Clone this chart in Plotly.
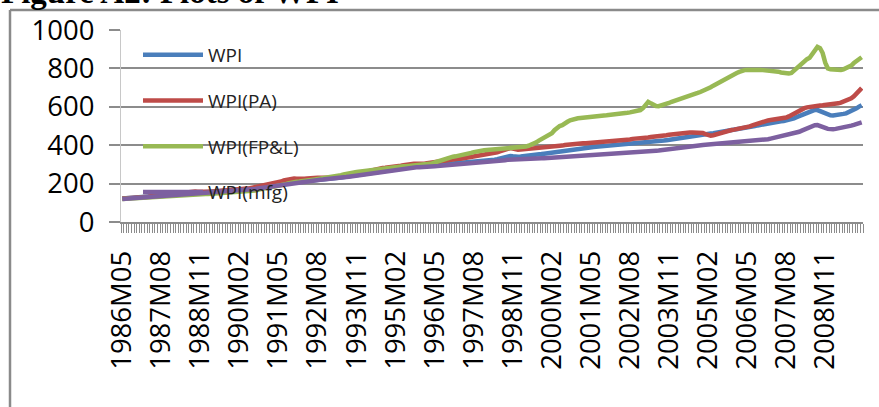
import plotly.graph_objects as go

# ---- data (monthly, starting 1986M05) ----
start_year, start_month = 1986, 5

wpi = [
    122, 123, 124, 125, 126, 126, 127, 127,
    128, 129, 130, 131, 132, 133, 135, 136, 137, 138, 139, 139,
    140, 141, 142, 143, 144, 145, 147, 148, 149, 149, 150, 150,
    151, 152, 153, 154, 155, 157, 158, 159, 160, 161, 161, 162,
    163, 164, 165, 167, 168, 170, 172, 174, 176, 178, 180, 181,
    182, 184, 186, 189, 192, 195, 198, 201, 204, 206, 208, 209,
    210, 211, 212, 214, 216, 218, 220, 221, 222, 223, 224, 224,
    225, 226, 228, 230, 232, 235, 237, 239, 241, 243, 245, 246,
    248, 250, 252, 255, 258, 261, 264, 266, 268, 270, 272, 273,
    275, 277, 279, 281, 283, 285, 287, 288, 289, 290, 291, 291,
    292, 293, 294, 296, 297, 299, 301, 303, 305, 306, 307, 307,
    308, 309, 310, 311, 312, 313, 314, 315, 316, 317, 318, 318,
    319, 320, 322, 324, 327, 330, 334, 338, 342, 344, 342, 339,
    340, 341, 342, 343, 344, 346, 348, 350, 352, 354, 356, 358,
    360, 362, 365, 368, 370, 372, 374, 376, 378, 380, 382, 384,
    386, 387, 388, 389, 390, 391, 392, 393, 394, 395, 396, 397,
    398, 399, 400, 401, 402, 403, 404, 406, 408, 409, 410, 411,
    412, 413, 415, 417, 418, 419, 420, 422, 424, 426, 428, 430,
    432, 435, 438, 441, 444, 447, 450, 452, 454, 456, 457, 458,
    459, 460, 461, 462, 464, 466, 469, 470, 472, 474, 476, 478,
    480, 482, 485, 488, 491, 494, 497, 500, 503, 506, 509, 512,
    515, 517, 519, 521, 522, 524, 526, 528, 531, 535, 540, 546,
    552, 558, 565, 572, 578, 582, 584, 583, 578, 570, 562, 557,
    556, 555, 556, 558, 560, 563, 566, 571, 577, 584, 592, 601,
    608,
]

wpi_pa = [
    122, 124, 125, 126, 127, 127, 128, 128,
    129, 130, 132, 134, 136, 138, 141, 143, 145, 146, 147, 147,
    148, 149, 150, 152, 154, 156, 158, 159, 159, 158, 157, 157,
    157, 157, 158, 159, 160, 162, 164, 165, 166, 167, 167, 167,
    168, 168, 170, 172, 174, 176, 179, 182, 185, 187, 189, 190,
    192, 194, 197, 201, 206, 211, 216, 220, 224, 226, 226, 225,
    224, 224, 225, 227, 229, 231, 232, 231, 230, 229, 229, 229,
    230, 231, 233, 236, 239, 243, 246, 249, 251, 252, 253, 254,
    256, 259, 262, 266, 270, 274, 277, 280, 282, 283, 284, 285,
    286, 288, 290, 293, 296, 299, 302, 303, 304, 304, 303, 303,
    304, 306, 308, 311, 314, 317, 320, 322, 324, 325, 326, 327,
    328, 329, 330, 332, 334, 336, 340, 343, 345, 346, 347, 348,
    350, 352, 355, 359, 363, 368, 373, 378, 383, 385, 382, 378,
    376, 377, 378, 379, 381, 383, 386, 388, 389, 389, 388, 388,
    389, 390, 392, 394, 396, 398, 401, 403, 405, 406, 407, 408,
    409, 410, 410, 411, 412, 413, 415, 416, 417, 418, 418, 418,
    419, 420, 420, 421, 422, 423, 426, 430, 433, 434, 433, 433,
    434, 436, 440, 443, 444, 444, 445, 446, 449, 452, 455, 457,
    458, 459, 461, 463, 464, 465, 466, 466, 466, 466, 465, 463,
    458, 452, 450, 452, 456, 462, 468, 472, 475, 477, 479, 481,
    483, 485, 487, 490, 494, 498, 503, 508, 513, 518, 522, 526,
    529, 531, 533, 534, 535, 537, 540, 544, 550, 557, 565, 574,
    583, 588, 593, 597, 600, 603, 605, 606, 607, 608, 609, 609,
    610, 612, 615, 618, 622, 626, 630, 636, 644, 655, 668, 685,
    698,
]

wpi_fpl = [
    120, 121, 121, 122, 122, 123, 123, 124,
    124, 125, 126, 127, 128, 129, 130, 131, 132, 133, 134, 135,
    136, 137, 138, 139, 140, 141, 142, 143, 144, 144, 145, 145,
    146, 146, 147, 148, 148, 149, 150, 150, 151, 152, 152, 153,
    154, 155, 156, 157, 158, 160, 162, 164, 168, 172, 176, 178,
    180, 182, 184, 186, 188, 190, 194, 198, 202, 206, 208, 210,
    211, 212, 214, 216, 218, 220, 222, 224, 226, 228, 229, 230,
    231, 233, 236, 240, 244, 248, 252, 254, 256, 258, 260, 262,
    264, 266, 268, 270, 272, 274, 276, 278, 280, 282, 284, 285,
    286, 287, 288, 289, 290, 291, 292, 293, 294, 295, 296, 297,
    298, 300, 302, 305, 310, 315, 320, 325, 330, 334, 338, 340,
    342, 344, 347, 350, 353, 356, 360, 364, 368, 371, 373, 374,
    375, 376, 377, 378, 379, 380, 381, 382, 383, 383, 384, 384,
    385, 387, 390, 393, 397, 402, 408, 415, 424, 432, 438, 443,
    450, 462, 478, 490, 500, 504, 510, 522, 530, 535, 538, 540,
    542, 544, 545, 548, 550, 551, 552, 553, 554, 555, 556, 557,
    558, 559, 560, 562, 564, 567, 569, 571, 574, 577, 580, 583,
    593, 610, 626, 618, 610, 604, 603, 606, 610, 615, 620, 626,
    630, 634, 638, 642, 647, 652, 657, 662, 667, 672, 677, 682,
    688, 695, 702, 710, 718, 726, 734, 742, 750, 757, 763, 770,
    776, 782, 788, 791, 792, 793, 792, 791, 791, 792, 791, 790,
    790, 789, 788, 786, 783, 779, 775, 774, 773, 776, 788, 805,
    818, 830, 840, 848, 855, 875, 900, 912, 905, 880, 830, 800,
    795, 793, 791, 790, 792, 795, 800, 806, 815, 828, 840, 850,
    858,
]

wpi_mfg = [
    120, 121, 122, 123, 124, 124, 125, 125,
    126, 127, 128, 129, 130, 131, 132, 133, 134, 135, 136, 136,
    137, 138, 139, 140, 141, 142, 143, 144, 145, 146, 147, 147,
    148, 149, 150, 151, 152, 154, 155, 156, 157, 158, 159, 160,
    161, 162, 163, 165, 166, 168, 170, 172, 174, 176, 178, 179,
    181, 183, 185, 187, 190, 193, 196, 199, 202, 204, 206, 207,
    208, 209, 210, 212, 214, 216, 218, 219, 220, 221, 222, 222,
    223, 224, 226, 228, 230, 232, 234, 236, 238, 240, 242, 243,
    245, 247, 249, 251, 254, 256, 259, 261, 263, 265, 267, 268,
    270, 272, 274, 276, 278, 280, 282, 283, 284, 285, 285, 285,
    286, 287, 288, 289, 290, 291, 292, 293, 294, 295, 296, 297,
    298, 299, 300, 301, 302, 303, 304, 305, 306, 307, 308, 309,
    310, 311, 312, 314, 316, 318, 320, 322, 324, 325, 326, 327,
    327, 328, 328, 329, 329, 330, 330, 331, 331, 332, 332, 333,
    334, 335, 336, 337, 338, 339, 340, 341, 342, 343, 344, 345,
    346, 347, 347, 348, 349, 350, 350, 351, 352, 352, 353, 354,
    355, 355, 356, 357, 358, 359, 360, 361, 362, 363, 364, 365,
    366, 367, 368, 369, 370, 371, 372, 374, 376, 378, 380, 382,
    384, 386, 388, 390, 392, 394, 396, 397, 398, 399, 400, 401,
    402, 403, 404, 405, 406, 407, 408, 409, 411, 413, 415, 417,
    418, 419, 420, 421, 422, 423, 424, 425, 426, 427, 428, 429,
    431, 434, 437, 440, 443, 446, 449, 452, 455, 458, 462, 466,
    470, 476, 482, 488, 494, 500, 504, 505, 502, 496, 490, 485,
    482, 483, 485, 487, 489, 492, 495, 498, 502, 506, 510, 514,
    519,
]

series_names = ["WPI", "WPI(PA)", "WPI(FP&L)", "WPI(mfg)"]
series_values = [wpi, wpi_pa, wpi_fpl, wpi_mfg]
series_colors = ["#4A7EBB", "#BE4B48", "#98B954", "#7D60A0"]

y_ticks = [0, 200, 400, 600, 800, 1000]
label_step = 15
title_text = "Figure A2: Plots of WPI"

# ---- month categories ----
n = len(wpi)
months = []
yy, mm = start_year, start_month
for _ in range(n):
    months.append(f"{yy}M{mm:02d}")
    mm += 1
    if mm > 12:
        mm = 1
        yy += 1
tick_text = [lab if i % label_step == 0 else "" for i, lab in enumerate(months)]

# ---- figure ----
W, H = 879, 407
ML, MR, MT, MB = 121, 16, 30, 185
PW, PH = W - ML - MR, H - MT - MB

def px_x(x):
    return (x - ML) / PW

def px_y(y):
    return (H - MB - y) / PH

fig = go.Figure()
for name, vals, col in zip(series_names, series_values, series_colors):
    fig.add_trace(go.Scatter(
        x=months, y=vals, name=name, mode="lines",
        line=dict(color=col, width=4.5),
        legendgroup=name,
    ))

grey = "#8c8c8c"
fig.update_layout(
    width=W, height=H,
    margin=dict(l=ML, r=MR, t=MT, b=MB, pad=0),
    paper_bgcolor="white", plot_bgcolor="white",
    font=dict(family="Open Sans", color="black"),
    showlegend=True,
    legend=dict(
        x=px_x(138), y=px_y(36), xanchor="left", yanchor="top",
        bgcolor="rgba(0,0,0,0)", borderwidth=0,
        font=dict(family="Open Sans", size=19, color="#222"),
        itemwidth=60, tracegroupgap=18,
    ),
    xaxis=dict(
        type="category", range=[-0.5, n - 0.5],
        tickmode="array", tickvals=months, ticktext=tick_text,
        tickson="boundaries", ticks="outside", ticklen=9, tickwidth=1,
        tickcolor=grey, tickangle=-90,
        tickfont=dict(family="Open Sans", size=27.5, color="black"),
        ticklabelstandoff=16,
        showline=True, linecolor=grey, linewidth=1.5,
        showgrid=False, zeroline=False,
    ),
    yaxis=dict(
        range=[0, 1000], tickmode="array", tickvals=y_ticks,
        ticks="outside", ticklen=11, tickcolor=grey, tickwidth=1.5,
        tickfont=dict(family="Open Sans", size=27.5, color="black"),
        ticklabelstandoff=9,
        showgrid=True, gridcolor=grey, gridwidth=1.5,
        showline=True, linecolor="#c8c8c8", linewidth=1,
        zeroline=False,
    ),
    shapes=[
        dict(type="line", xref="paper", yref="paper",
             x0=px_x(10), x1=px_x(10), y0=px_y(10), y1=px_y(H + 5),
             line=dict(color="#8a8a8a", width=2.5)),
        dict(type="line", xref="paper", yref="paper",
             x0=px_x(10), x1=px_x(W + 5), y0=px_y(10), y1=px_y(10),
             line=dict(color="#8a8a8a", width=2.5)),
    ],
    annotations=[
        dict(text=f"<b>{title_text}</b>", xref="paper", yref="paper",
             x=px_x(-1), y=px_y(-8.5), xanchor="left", yanchor="middle",
             showarrow=False,
             font=dict(family="Liberation Serif", size=33, color="black")),
    ],
)

fig.write_html(
    "out.html",
    config={"displayModeBar": False},
    post_script="document.body.style.margin='0';document.body.style.overflow='hidden';",
)
